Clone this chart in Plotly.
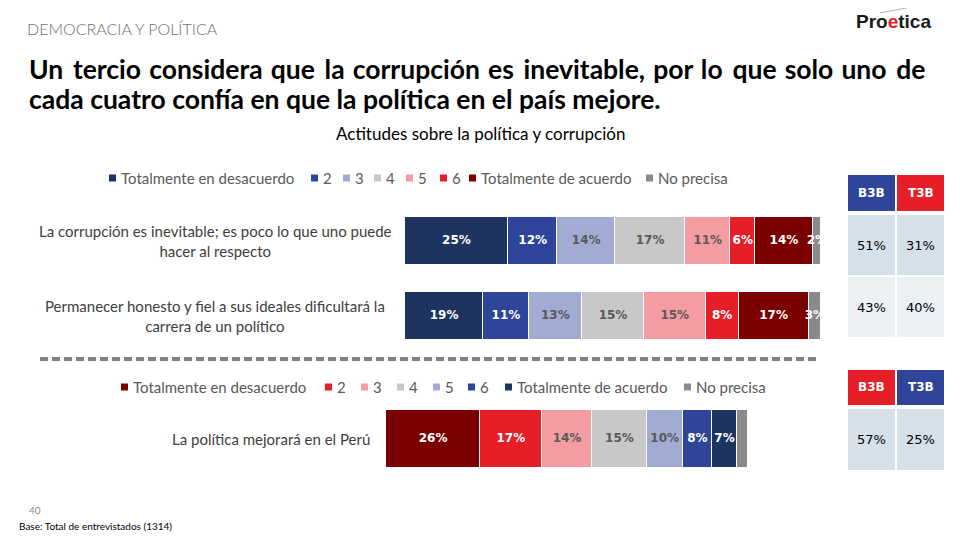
import plotly.graph_objects as go

# ---------------- data ----------------
scale_names = ["Totalmente en desacuerdo", "2", "3", "4", "5", "6",
               "Totalmente de acuerdo", "No precisa"]

top_categories = ["La corrupción es inevitable; es poco lo que uno puede<br>hacer al respecto",
                  "Permanecer honesto y fiel a sus ideales dificultará la<br>carrera de un político"]
top_tot_desacuerdo = [25, 19]
top_2 = [12, 11]
top_3 = [14, 13]
top_4 = [17, 15]
top_5 = [11, 15]
top_6 = [6, 8]
top_tot_acuerdo = [14, 17]
top_no_precisa = [2, 3]

bottom_categories = ["La política mejorará en el Perú"]
bot_tot_desacuerdo = [26]
bot_2 = [17]
bot_3 = [14]
bot_4 = [15]
bot_5 = [10]
bot_6 = [8]
bot_tot_acuerdo = [7]
bot_no_precisa = [3]

b3b_top = [51, 43]
t3b_top = [31, 40]
b3b_bottom = [57]
t3b_bottom = [25]

# ---------------- styles ----------------
NAVY = "#1d3461"
BLUE = "#2e4599"
LBLUE = "#a2acd3"
GREY4 = "#c8c8c8"
PINK = "#f39ca1"
RED = "#e61e28"
DRED = "#7a0000"
NPGREY = "#8a8a8a"
DARKTXT = "#595959"

top_colors = [NAVY, BLUE, LBLUE, GREY4, PINK, RED, DRED, NPGREY]
top_txt = ["white", "white", DARKTXT, DARKTXT, DARKTXT, "white", "white", "white"]
bot_colors = [DRED, RED, PINK, GREY4, LBLUE, BLUE, NAVY, NPGREY]
bot_txt = ["white", "white", DARKTXT, DARKTXT, DARKTXT, "white", "white", "white"]

W, H = 960, 540
OFF = 8  # page body margin


def px(x):
    return (x - OFF) / W


def py(y):
    return 1 - (y - OFF) / H


fig = go.Figure()


def add_stack(series, colors, txtcols, xa, ya, label_mask):
    n = len(series[0])
    cum = [0] * n
    for k, (name, vals, col, tc) in enumerate(zip(scale_names, series, colors, txtcols)):
        fig.add_trace(go.Bar(
            x=vals, y=list(range(n)), orientation="h", name=name,
            marker=dict(color=col, line=dict(color="white", width=1)),
            width=0.644, showlegend=False, hoverinfo="skip", xaxis=xa, yaxis=ya))
        centers = [c + v / 2 for c, v in zip(cum, vals)]
        cum = [c + v for c, v in zip(cum, vals)]
        if label_mask[k]:
            fig.add_trace(go.Scatter(
                x=centers, y=list(range(n)), mode="text",
                text=[f"{v}%" for v in vals], textposition="middle center",
                textfont=dict(color=tc, size=12, family="DejaVu Sans", weight="bold"),
                cliponaxis=False, showlegend=False, hoverinfo="skip", xaxis=xa, yaxis=ya))


add_stack([top_tot_desacuerdo, top_2, top_3, top_4, top_5, top_6, top_tot_acuerdo, top_no_precisa],
          top_colors, top_txt, "x", "y", [True] * 8)
add_stack([bot_tot_desacuerdo, bot_2, bot_3, bot_4, bot_5, bot_6, bot_tot_acuerdo, bot_no_precisa],
          bot_colors, bot_txt, "x2", "y2", [True] * 7 + [False])

axis_common = dict(showgrid=False, zeroline=False, showticklabels=False, showline=False, ticks="")
fig.update_layout(
    width=W, height=H, margin=dict(l=0, r=0, t=0, b=0),
    paper_bgcolor="white", plot_bgcolor="rgba(0,0,0,0)", barmode="stack",
    bargap=0,
    xaxis=dict(domain=[px(405), px(821)], range=[0, 101], anchor="y", **axis_common),
    yaxis=dict(domain=[py(352.75), py(203.75)], range=[1.5, -0.5], anchor="x", **axis_common),
    xaxis2=dict(domain=[px(386), px(748)], range=[0, 100], anchor="y2", **axis_common),
    yaxis2=dict(domain=[py(484), py(394)], range=[0.5, -0.5], anchor="x2", **axis_common),
    font=dict(family="Lato", color=DARKTXT),
)

ann = []
shapes = []


def text_at(x, y, text, size, color, family="Lato", xanchor="left", align="left", weight="normal"):
    ann.append(dict(x=px(x), y=py(y), xref="paper", yref="paper", xanchor=xanchor, yanchor="middle",
                    text=text, showarrow=False, align=align,
                    font=dict(family=family, size=size, color=color, weight=weight)))


# header texts
text_at(25, 29, "DEMOCRACIA Y POLÍTICA", 16, "#6f6f6f", weight=300)
words = "Un tercio considera que la corrupción es inevitable, por lo que solo uno de".split(" ")
line1 = words[0]
for k, w in enumerate(words[1:]):
    line1 += (" \u200a\u200a" if k % 3 == 0 else " \u200a") + w
text_at(27, 69, f"<b>{line1}</b>", 26.5, "black")
text_at(27, 99, "<b>cada cuatro confía en que la política en el país mejore.</b>", 26.5, "black")
text_at(480, 133, "Actitudes sobre la política y corrupción", 17, "black", xanchor="center", align="center")

# logo
text_at(933, 22, "<b>Pro<span style='color:#e61e28'>e</span>tica</b>", 19, "#1a1a1a",
        family="Liberation Sans", xanchor="right")
shapes.append(dict(type="line", xref="paper", yref="paper", x0=px(880), y0=py(13), x1=px(932), y1=py(3),
                   line=dict(color="#b0b0b0", width=1)))

# footer
text_at(27, 510, "40", 10, "#8c8c8c")
text_at(17, 526, "Base: Total de entrevistados (1314)", 10, "black")

# category labels
for i, cat in enumerate(top_categories):
    ann.append(dict(x=px(215), y=i, xref="paper", yref="y", xanchor="center", yanchor="middle",
                    text=cat, showarrow=False, align="center",
                    font=dict(family="Lato", size=15, color="#404040")))
for i, cat in enumerate(bottom_categories):
    ann.append(dict(x=px(372), y=i, xref="paper", yref="y2", xanchor="right", yanchor="middle",
                    text=cat, showarrow=False, align="right",
                    font=dict(family="Lato", size=15, color="#404040")))

# legends
top_leg_x = [109, 311, 343, 374, 406, 440, 469, 646]
bot_leg_x = [121, 325, 361, 397, 433, 468, 505, 684]
for names, cols, xs, yy in [(scale_names, top_colors, top_leg_x, 178),
                            (scale_names, bot_colors, bot_leg_x, 387)]:
    for n, c, x in zip(names, cols, xs):
        shapes.append(dict(type="rect", xref="paper", yref="paper",
                           x0=px(x), x1=px(x + 7), y0=py(yy + 3.5), y1=py(yy - 3.5),
                           fillcolor=c, line=dict(width=0)))
        text_at(x + 10, yy, n, 15, "#595959")

# dashed separator
shapes.append(dict(type="line", xref="paper", yref="paper", x0=px(40), x1=px(818), y0=py(359), y1=py(359),
                   line=dict(color="#808080", width=4, dash="8px,4px")))


# tables
def table(header_cols, header_top, header_bot, rows, col_vals, row_fills):
    cols_x = [(848, 895), (897, 944)]
    for (x0, x1), (lab, hc) in zip(cols_x, header_cols):
        shapes.append(dict(type="rect", xref="paper", yref="paper", x0=px(x0), x1=px(x1),
                           y0=py(header_bot), y1=py(header_top), fillcolor=hc, line=dict(width=0)))
        text_at((x0 + x1) / 2, (header_top + header_bot) / 2, f"<b>{lab}</b>", 12, "white",
                family="DejaVu Sans", xanchor="center", align="center")
    for ri, ((r0, r1), fill) in enumerate(zip(rows, row_fills)):
        for (x0, x1), vals in zip(cols_x, col_vals):
            shapes.append(dict(type="rect", xref="paper", yref="paper", x0=px(x0), x1=px(x1),
                               y0=py(r1), y1=py(r0), fillcolor=fill, line=dict(width=0), layer="below"))
            text_at((x0 + x1) / 2, (r0 + r1) / 2, f"{vals[ri]}%", 13, "black",
                    family="DejaVu Sans", xanchor="center", align="center")


table([("B3B", BLUE), ("T3B", RED)], 175, 211, [(215, 275), (277, 337)],
      [b3b_top, t3b_top], ["#d5e0e8", "#eaf0f4"])
table([("B3B", RED), ("T3B", BLUE)], 370, 405, [(409, 470)],
      [b3b_bottom, t3b_bottom], ["#d5e0e8"])

fig.update_layout(annotations=ann, shapes=shapes)
fig.write_html("out.html")
